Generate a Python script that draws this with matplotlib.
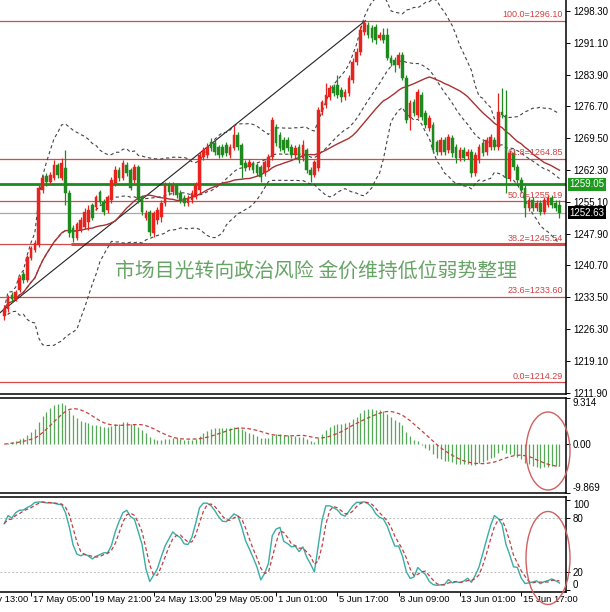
import numpy as np
import pandas as pd
import matplotlib
matplotlib.use("Agg")
import matplotlib.pyplot as plt
from matplotlib.patches import Ellipse

plt.rcParams['font.family'] = ['Liberation Sans', 'DejaVu Sans']

# XAUUSD H4 candles
opens = [1229.3, 1230.9, 1234.1, 1233.2, 1235.2, 1238.8, 1237.5, 1242.4, 1244.2, 1245.4,
         1257.8, 1261.0, 1259.6, 1260.5, 1263.5, 1260.5, 1262.8, 1257.1, 1249.2, 1247.0,
         1248.8, 1249.4, 1250.6, 1254.4, 1254.0, 1257.4, 1255.1, 1253.3, 1255.6, 1259.4,
         1262.3, 1260.5, 1263.5, 1262.3, 1260.1, 1263.0, 1256.2, 1251.5, 1252.8, 1248.1,
         1251.0, 1251.7, 1254.9, 1258.9, 1257.4, 1258.9, 1257.1, 1256.0, 1254.9, 1255.6,
         1256.2, 1257.8, 1265.3, 1265.7, 1268.7, 1268.4, 1267.5, 1267.5, 1268.0, 1265.7,
         1267.3, 1270.3, 1268.0, 1263.9, 1263.0, 1263.9, 1263.5, 1263.0, 1261.7, 1263.0,
         1265.3, 1272.1, 1270.3, 1269.1, 1269.1, 1267.5, 1265.7, 1267.5, 1265.1, 1266.9,
         1262.3, 1261.2, 1262.8, 1275.5, 1277.0, 1278.9, 1281.1, 1281.6, 1280.4, 1278.9,
         1279.8, 1282.7, 1286.8, 1289.0, 1293.6, 1295.1, 1294.5, 1294.7, 1292.2, 1292.9,
         1292.9, 1287.7, 1287.2, 1286.1, 1288.4, 1283.2, 1274.1, 1277.7, 1274.8, 1279.3,
         1275.2, 1271.8, 1272.5, 1268.7, 1266.4, 1269.1, 1266.9, 1269.6, 1267.5, 1265.1,
         1266.9, 1265.5, 1266.4, 1261.7, 1264.6, 1268.4, 1266.4, 1267.5, 1269.1, 1267.5,
         1275.5, 1274.8, 1260.5, 1266.2, 1263.0, 1260.1, 1258.3, 1253.7, 1255.6, 1253.7,
         1254.9, 1252.8, 1254.4, 1256.0, 1254.9, 1254.4]
closes = [1230.9, 1233.4, 1233.2, 1234.7, 1237.9, 1237.5, 1242.7, 1244.7, 1245.8, 1258.3,
          1260.5, 1259.6, 1261.2, 1263.5, 1261.2, 1263.9, 1257.1, 1248.1, 1247.0, 1250.1,
          1251.0, 1252.8, 1253.3, 1251.5, 1256.2, 1255.1, 1252.8, 1256.2, 1260.1, 1262.3,
          1260.5, 1263.9, 1261.7, 1258.3, 1263.0, 1255.6, 1252.8, 1252.6, 1248.3, 1252.6,
          1253.3, 1254.9, 1258.9, 1257.4, 1258.9, 1256.7, 1255.6, 1254.9, 1256.0, 1257.1,
          1258.9, 1265.7, 1266.9, 1267.5, 1267.3, 1266.4, 1265.7, 1265.7, 1266.2, 1267.5,
          1270.3, 1267.5, 1263.5, 1262.8, 1264.2, 1262.3, 1261.7, 1260.8, 1264.2, 1265.3,
          1273.7, 1268.4, 1267.3, 1266.9, 1267.3, 1265.7, 1267.3, 1264.6, 1268.0, 1262.3,
          1261.2, 1264.2, 1275.9, 1277.7, 1279.3, 1280.9, 1279.8, 1279.3, 1278.9, 1280.0,
          1283.2, 1286.8, 1289.0, 1294.0, 1295.6, 1292.9, 1292.2, 1291.7, 1292.9, 1291.7,
          1287.7, 1286.5, 1286.1, 1288.4, 1283.2, 1273.7, 1277.5, 1275.2, 1280.0, 1274.3,
          1272.5, 1274.1, 1266.9, 1266.4, 1269.1, 1266.4, 1269.8, 1266.2, 1265.1, 1266.9,
          1265.1, 1266.4, 1261.7, 1265.7, 1267.5, 1266.2, 1269.1, 1269.8, 1267.5, 1275.5,
          1274.8, 1260.5, 1266.2, 1263.0, 1260.1, 1257.8, 1253.7, 1255.6, 1253.7, 1254.9,
          1252.8, 1255.6, 1256.0, 1254.4, 1253.7, 1252.63]
highs = [1231.8, 1234.1, 1234.7, 1235.2, 1238.6, 1239.5, 1243.1, 1245.1, 1246.5, 1258.9,
         1261.2, 1261.7, 1261.9, 1264.6, 1263.9, 1265.1, 1266.9, 1257.8, 1249.9, 1250.6,
         1251.7, 1253.7, 1254.4, 1254.9, 1256.7, 1257.8, 1255.8, 1256.7, 1260.8, 1263.2,
         1263.0, 1264.6, 1264.2, 1262.8, 1263.7, 1263.5, 1256.7, 1253.3, 1253.3, 1253.1,
         1254.0, 1255.6, 1259.6, 1259.6, 1259.6, 1259.4, 1257.8, 1256.7, 1256.7, 1257.8,
         1259.6, 1266.4, 1267.5, 1268.4, 1269.6, 1269.1, 1268.0, 1268.2, 1268.7, 1268.2,
         1272.5, 1270.9, 1268.4, 1264.6, 1264.8, 1264.4, 1263.9, 1263.5, 1264.6, 1266.0,
         1274.3, 1272.7, 1270.9, 1269.8, 1269.8, 1268.2, 1268.0, 1268.2, 1269.1, 1267.3,
         1263.0, 1264.6, 1276.6, 1278.2, 1282.0, 1281.6, 1281.8, 1283.8, 1281.1, 1280.7,
         1283.8, 1287.7, 1289.9, 1294.9, 1296.1, 1295.8, 1295.1, 1295.4, 1293.6, 1294.5,
         1294.5, 1288.4, 1287.9, 1289.0, 1289.0, 1283.8, 1278.2, 1278.4, 1280.7, 1280.0,
         1275.9, 1274.8, 1273.2, 1269.1, 1269.8, 1269.8, 1270.5, 1270.3, 1268.2, 1267.5,
         1267.5, 1267.1, 1267.1, 1266.4, 1268.2, 1269.1, 1269.8, 1270.5, 1269.8, 1279.8,
         1280.9, 1280.4, 1266.9, 1266.9, 1263.7, 1260.8, 1258.9, 1256.2, 1256.2, 1255.6,
         1255.6, 1256.2, 1256.7, 1256.7, 1255.6, 1255.6]
lows = [1228.4, 1230.2, 1232.5, 1232.7, 1234.7, 1236.8, 1237.0, 1242.0, 1243.8, 1244.9,
        1257.1, 1258.7, 1259.2, 1260.1, 1260.5, 1260.1, 1254.4, 1247.2, 1246.1, 1246.5,
        1248.3, 1249.0, 1248.8, 1251.0, 1253.3, 1254.6, 1252.2, 1252.6, 1254.9, 1258.7,
        1259.9, 1260.1, 1261.0, 1257.8, 1259.4, 1254.9, 1252.2, 1251.0, 1247.4, 1247.2,
        1250.1, 1250.6, 1254.2, 1256.7, 1256.7, 1256.0, 1254.9, 1254.2, 1254.2, 1254.9,
        1255.8, 1257.1, 1264.6, 1265.1, 1266.6, 1265.7, 1265.1, 1265.3, 1265.5, 1265.1,
        1266.9, 1266.9, 1260.5, 1262.1, 1262.3, 1261.7, 1261.0, 1259.6, 1261.0, 1262.3,
        1264.6, 1267.8, 1266.6, 1266.2, 1266.6, 1265.1, 1265.1, 1263.9, 1264.4, 1261.7,
        1259.6, 1260.8, 1262.1, 1274.8, 1276.4, 1278.2, 1279.1, 1278.6, 1277.7, 1278.2,
        1279.1, 1282.0, 1286.1, 1288.4, 1292.9, 1292.2, 1291.3, 1290.8, 1291.7, 1291.1,
        1287.2, 1285.9, 1284.5, 1285.4, 1282.7, 1273.0, 1271.4, 1274.6, 1274.1, 1273.7,
        1271.8, 1271.2, 1266.2, 1265.7, 1265.7, 1265.7, 1266.2, 1265.3, 1263.9, 1264.4,
        1264.4, 1264.8, 1260.8, 1261.0, 1263.9, 1265.5, 1265.7, 1266.9, 1266.9, 1266.9,
        1274.1, 1257.1, 1259.9, 1262.3, 1259.4, 1257.1, 1251.7, 1253.1, 1253.1, 1253.1,
        1252.2, 1252.4, 1254.0, 1253.7, 1253.1, 1251.5]

time_labels = ["14 May 13:00", "17 May 05:00", "19 May 21:00", "24 May 13:00", "29 May 05:00",
               "1 Jun 01:00", "5 Jun 17:00", "8 Jun 09:00", "13 Jun 01:00", "15 Jun 17:00"]
time_ticks = [-9, 7, 23, 39, 55, 71, 87, 103, 119, 135]
price_ticks = [1298.30, 1291.10, 1283.90, 1276.70, 1269.50, 1262.30, 1255.10,
               1247.90, 1240.70, 1233.50, 1226.30, 1219.10, 1211.90]
fib_levels = [100.0, 61.8, 50.0, 38.2, 23.6, 0.0]
fib_prices = [1296.10, 1264.85, 1255.19, 1245.54, 1233.60, 1214.29]
support = 1259.05
bid = 1252.63
trend_x = [-1.1, 94.3]
trend_y = [1230.0, 1296.1]
macd_top, macd_bottom = 9.314, -9.869
stoch_ticks = [100, 80, 20, 0]
headline = "市场目光转向政治风险 金价维持低位弱势整理"

UP = '#e8221c'
DN = '#1e8a1e'

n = len(closes)
idx = np.arange(n)
c = pd.Series(closes)
h = pd.Series(highs)
l = pd.Series(lows)

# indicators from the candles
mid = c.rolling(20, min_periods=1).mean()
sd = c.rolling(20, min_periods=1).std(ddof=0)
ma30 = c.rolling(30, min_periods=1).mean()
macd = c.ewm(span=12, adjust=False).mean() - c.ewm(span=26, adjust=False).mean()
sig = macd.rolling(9, min_periods=1).mean()
ll = l.rolling(14, min_periods=1).min()
hh = h.rolling(14, min_periods=1).max()
k = 100 * (c - ll).rolling(3, min_periods=1).sum() / (hh - ll).rolling(3, min_periods=1).sum()
d = k.rolling(3, min_periods=1).mean()

fig = plt.figure(figsize=(6.1, 6.12), dpi=100)
W = 566 / 610
ax1 = fig.add_axes([0, 1 - 394 / 612, W, 394 / 612])
ax2 = fig.add_axes([0, 1 - 493 / 612, W, 95 / 612])
ax3 = fig.add_axes([0, 1 - 592 / 612, W, 95 / 612])
xlim = (-1.1, 146.7)

for ax in (ax1, ax2, ax3):
    ax.set_xlim(*xlim)
    ax.yaxis.tick_right()
    ax.spines['left'].set_visible(False)
    for s in ('right', 'top', 'bottom'):
        ax.spines[s].set_linewidth(1.1)
    ax.tick_params(axis='y', labelsize=7, length=3, width=0.7, pad=2)
    ax.tick_params(axis='x', bottom=False, labelbottom=False)
ax1.spines['top'].set_visible(False)

# main panel
ax1.set_ylim(1211.6, 1300.79)
for lvl, p in zip(fib_levels, fib_prices):
    ax1.axhline(p, color='#d84848', lw=0.9, zorder=1)
    ax1.text(145.9, p + 0.35, f"{lvl:.1f}={p:.2f}", ha='right', va='bottom',
             fontsize=6.5, color='#d04040', zorder=6)
ax1.hlines(fib_prices[3], 17.5, xlim[1], color='#d84848', lw=2.2, zorder=1)
ax1.axhline(support, color='#1e8a1e', lw=2, zorder=1)
ax1.axhline(bid, color='#a8a8a8', lw=0.9, zorder=1)
ax1.plot(trend_x, trend_y, color='#222222', lw=0.8, zorder=2)

dash = (0, (3, 2.5))
ax1.plot(idx, mid + 2 * sd, color='#444444', lw=0.8, ls=dash, zorder=2)
ax1.plot(idx, mid - 2 * sd, color='#444444', lw=0.8, ls=dash, zorder=2)
ax1.plot(idx, mid, color='#444444', lw=0.8, ls=dash, zorder=2)
ax1.plot(idx, ma30, color='#a83232', lw=1.0, zorder=2)

for i in range(n):
    o, cl = opens[i], closes[i]
    col = UP if cl >= o else DN
    ax1.vlines(i, lows[i], highs[i], color=col, lw=0.9, zorder=3)
    ax1.bar(i, max(abs(cl - o), 0.25), bottom=min(o, cl), width=0.7, color=col,
            edgecolor=col, lw=0.3, zorder=4)

ax1.set_yticks(price_ticks)
ax1.set_yticklabels([f"{p:.2f}" for p in price_ticks])
ax1.text(81.4, 1239.3, headline, ha='center', va='center', fontsize=14.3,
         color='#66a466', family=['Noto Sans CJK SC', 'DejaVu Sans'], zorder=7)
for val, fc in ((support, '#1e9a1e'), (bid, '#000000')):
    ax1.text(1.006, val, f"{val:.2f}", transform=ax1.get_yaxis_transform(),
             ha='left', va='center', fontsize=7, color='white', clip_on=False,
             bbox=dict(boxstyle='square,pad=0.18', fc=fc, ec='none'), zorder=8)

# MACD panel
ax2.set_ylim(macd_bottom, macd_top)
ax2.vlines(idx, 0, macd, color='#55a855', lw=0.9)
ax2.plot(idx, sig, color='#c84040', lw=0.9, ls=(0, (3, 2)))
ax2.set_yticks([macd_top, 0.0, macd_bottom])
ax2.set_yticklabels([f"{macd_top:.3f}", "0.00", f"{macd_bottom:.3f}"])
tl = ax2.get_yticklabels()
tl[0].set_va('top')
tl[2].set_va('bottom')

# Stochastic panel
ax3.set_ylim(-2, 103)
for lv in (80, 20):
    ax3.axhline(lv, color='#bdbdbd', lw=0.7, ls=(0, (2, 2)))
ax3.plot(idx, k, color='#3aada5', lw=1.0)
ax3.plot(idx, d, color='#c04040', lw=0.9, ls=(0, (3, 2)))
ax3.set_yticks(stoch_ticks)
ax3.set_yticklabels([str(s) for s in stoch_ticks])
tl = ax3.get_yticklabels()
tl[0].set_va('top')
tl[3].set_va('bottom')
ax3.set_xticks([t for t in time_ticks if t >= xlim[0]])
ax3.tick_params(axis='x', bottom=True, length=3, width=0.7)
for t, lab in zip(time_ticks, time_labels):
    ax3.text(t + 0.4, -0.03, lab, transform=ax3.get_xaxis_transform(), ha='left',
             va='top', fontsize=6.8, clip_on=False)

# red ellipses marking the latest bars
for cy, hgt in ((451, 78), (558, 93)):
    fig.patches.append(Ellipse((548 / 610, 1 - cy / 612), 44 / 610, hgt / 612,
                               transform=fig.transFigure, fill=False,
                               ec='#d06060', lw=1.0))

fig.savefig('out.png', dpi=100)
